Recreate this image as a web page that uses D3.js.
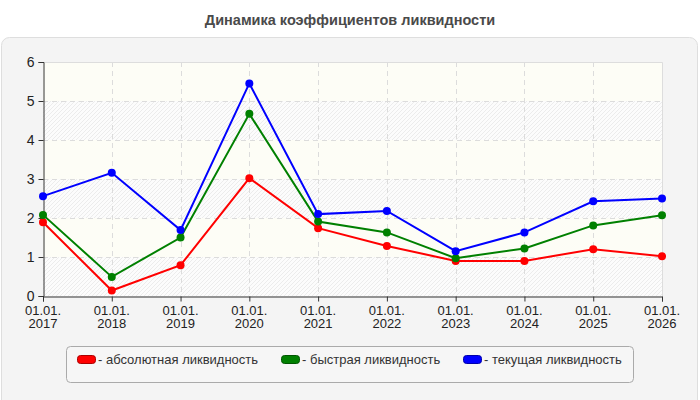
<!DOCTYPE html>
<html>
<head>
<meta charset="utf-8">
<script src="https://cdn.jsdelivr.net/npm/d3@7/dist/d3.min.js"></script>
<style>
  body { margin: 0; background: #fff; }
  svg { display: block; font-family: "Liberation Sans", Arial, sans-serif; }
</style>
</head>
<body>
<svg id="chart" width="700" height="400"></svg>
<script>
// data
var years = ['2017', '2018', '2019', '2020', '2021', '2022', '2023', '2024', '2025', '2026']
var absolute = [1.89, 0.14, 0.79, 3.02, 1.74, 1.28, 0.9, 0.9, 1.2, 1.02]
var quick = [2.08, 0.49, 1.5, 4.67, 1.91, 1.63, 0.97, 1.22, 1.81, 2.07]
var current = [2.56, 3.16, 1.69, 5.45, 2.1, 2.18, 1.15, 1.63, 2.43, 2.5]
var yTicks = [0, 1, 2, 3, 4, 5, 6]
var seriesNames = ['абсолютная ликвидность', 'быстрая ликвидность', 'текущая ликвидность']
var seriesColors = ['#ff0000', '#008000', '#0000ff']
var seriesBorders = ['#aa0000', '#005500', '#0000aa']

var series = [absolute, quick, current]

var svg = d3.select('#chart')
var plotLeft = 43, plotRight = 662, plotTop = 62, plotBottom = 296

// panel
svg.append('rect')
  .attr('x', 1.5).attr('y', 37.5)
  .attr('width', 696).attr('height', 380)
  .attr('rx', 8)
  .attr('fill', '#f4f4f4')
  .attr('stroke', '#dedede')

// title
svg.append('text')
  .attr('x', 350).attr('y', 25)
  .attr('text-anchor', 'middle')
  .attr('font-size', 14.5)
  .attr('font-weight', 'bold')
  .attr('fill', '#4a4a4a')
  .text('Динамика коэффициентов ликвидности')

var x = d3.scalePoint().domain(years).range([plotLeft, plotRight])
var y = d3.scaleLinear().domain([0, 6]).range([plotBottom, plotTop])

// hatch pattern
var defs = svg.append('defs')
var pat = defs.append('pattern')
  .attr('id', 'hatch')
  .attr('patternUnits', 'userSpaceOnUse')
  .attr('width', 4).attr('height', 4)
pat.append('rect').attr('width', 4).attr('height', 4).attr('fill', '#fcfcfc')
pat.append('path')
  .attr('d', 'M-1,1 l2,-2 M0,4 l4,-4 M3,5 l2,-2')
  .attr('stroke', '#ececec')
  .attr('stroke-width', 1)

// alternating bands
var bands = d3.range(0, 6)
svg.append('g').selectAll('rect')
  .data(bands)
  .enter()
  .append('rect')
  .attr('x', plotLeft)
  .attr('y', function (d) { return y(d + 1) })
  .attr('width', plotRight - plotLeft)
  .attr('height', function (d) { return y(d) - y(d + 1) })
  .attr('fill', function (d) { return d % 2 === 0 ? 'url(#hatch)' : '#fdfdf6' })

// grid
var grid = svg.append('g')
  .attr('stroke', '#dcdcdc')
  .attr('stroke-dasharray', '5,4')
grid.selectAll('.hg')
  .data(yTicks.slice(1, -1))
  .enter()
  .append('line')
  .attr('x1', plotLeft).attr('x2', plotRight)
  .attr('y1', function (d) { return Math.round(y(d)) + 0.5 })
  .attr('y2', function (d) { return Math.round(y(d)) + 0.5 })
grid.selectAll('.vg')
  .data(years.slice(1, -1))
  .enter()
  .append('line')
  .attr('y1', plotTop).attr('y2', plotBottom)
  .attr('x1', function (d) { return Math.round(x(d)) + 0.5 })
  .attr('x2', function (d) { return Math.round(x(d)) + 0.5 })

// plot frame top/right
svg.append('path')
  .attr('d', 'M' + plotLeft + ',' + (plotTop + 0.5) + 'H' + (plotRight + 0.5) + 'V' + plotBottom)
  .attr('fill', 'none')
  .attr('stroke', '#dddddd')

// axes
var yAxis = svg.append('g')
  .attr('transform', 'translate(' + (plotLeft + 0.5) + ',0)')
  .call(d3.axisLeft(y).tickValues(yTicks).tickSize(5).tickPadding(4).tickFormat(d3.format('d')))
var xAxis = svg.append('g')
  .attr('transform', 'translate(0,' + (plotBottom + 0.5) + ')')
  .call(d3.axisBottom(x).tickSize(5).tickPadding(3).tickFormat(''))

svg.selectAll('.domain').attr('stroke', '#333')
svg.selectAll('.tick line').attr('stroke', '#333')
yAxis.selectAll('text')
  .attr('font-size', 14)
  .attr('fill', '#222')
  .attr('font-family', '"Liberation Sans", Arial, sans-serif')

// two-line x labels
var xl = svg.append('g')
  .attr('font-size', 13)
  .attr('fill', '#222')
  .attr('text-anchor', 'middle')
xl.selectAll('text')
  .data(years)
  .enter()
  .append('text')
  .attr('x', function (d) { return x(d) })
  .attr('y', plotBottom + 19)
  .each(function (d) {
    var t = d3.select(this)
    t.append('tspan').attr('x', x(d)).text('01.01.')
    t.append('tspan').attr('x', x(d)).attr('dy', 13).text(d)
  })

// series lines and markers
var line = d3.line()
  .x(function (d, i) { return x(years[i]) })
  .y(function (d) { return y(d) })

series.forEach(function (s, k) {
  svg.append('path')
    .datum(s)
    .attr('d', line)
    .attr('fill', 'none')
    .attr('stroke', seriesColors[k])
    .attr('stroke-width', 2)
  svg.append('g').selectAll('circle')
    .data(s)
    .enter()
    .append('circle')
    .attr('cx', function (d, i) { return x(years[i]) })
    .attr('cy', function (d) { return y(d) })
    .attr('r', 4)
    .attr('fill', seriesColors[k])
})

// legend
var legend = svg.append('g')
legend.append('rect')
  .attr('x', 66.5).attr('y', 346.5)
  .attr('width', 567).attr('height', 36)
  .attr('rx', 4)
  .attr('fill', '#f6f6f6')
  .attr('stroke', '#aaaaaa')

var legendX = [77, 281, 463]
seriesNames.forEach(function (name, k) {
  legend.append('rect')
    .attr('x', legendX[k] + 0.5).attr('y', 355.5)
    .attr('width', 18).attr('height', 8)
    .attr('rx', 3)
    .attr('fill', seriesColors[k])
    .attr('stroke', seriesBorders[k])
  legend.append('text')
    .attr('x', legendX[k] + 21)
    .attr('y', 364)
    .attr('font-size', 13)
    .attr('fill', '#333')
    .text('- ' + name)
})
</script>
</body>
</html>
